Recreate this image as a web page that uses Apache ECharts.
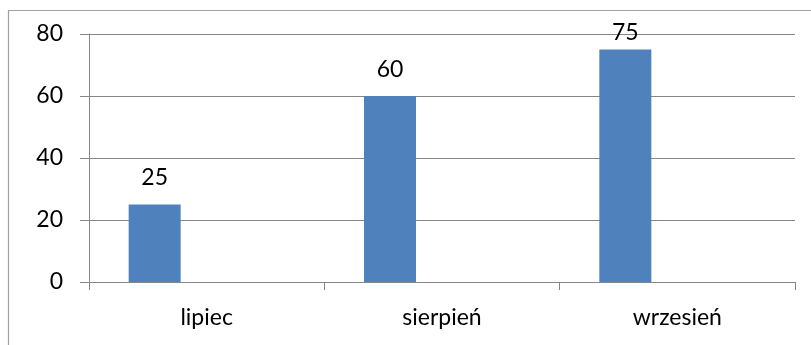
<!DOCTYPE html>
<html>
<head>
<meta charset="utf-8">
<title>Wykres miesięczny</title>
<script src="https://cdn.jsdelivr.net/npm/echarts@6/dist/echarts.min.js"></script>
<style>
  html, body { margin: 0; padding: 0; background: #fff; }
  #chart { width: 811px; height: 345px; }
</style>
</head>
<body>
<div id="chart"></div>
<script>
// Months on the category axis and their values
const categories = ['lipiec', 'sierpień', 'wrzesień'];
const values = [25, 60, 75];
const yTicks = [0, 20, 40, 60, 80];

const FONT = 'Lato, "Open Sans", sans-serif';
const AXIS_GRAY = '#868686';
const GRID_TOP = 34;

const chart = echarts.init(document.getElementById('chart'), null, { renderer: 'canvas' });

chart.setOption({
  backgroundColor: '#ffffff',
  animation: false,
  graphic: [{
    // outer chart-area frame (open on the right and bottom)
    type: 'rect',
    shape: { x: 8.5, y: 10.5, width: 1000, height: 600 },
    style: { fill: 'none', stroke: '#a0a0a0', lineWidth: 1.2 },
    silent: true,
    z: -1
  }],
  grid: { left: 89, right: 16, top: GRID_TOP, bottom: 63, containLabel: false },
  xAxis: {
    type: 'category',
    data: categories,
    boundaryGap: true,
    axisLine: { show: true, lineStyle: { color: AXIS_GRAY, width: 1 } },
    axisTick: { show: true, length: 8, lineStyle: { color: AXIS_GRAY } },
    axisLabel: { color: '#000', fontFamily: FONT, fontSize: 23, margin: 24 },
    splitLine: { show: false }
  },
  yAxis: {
    type: 'value',
    min: yTicks[0],
    max: yTicks[yTicks.length - 1],
    interval: yTicks[1] - yTicks[0],
    axisLine: { show: true, lineStyle: { color: AXIS_GRAY, width: 1 } },
    axisTick: { show: true, length: 9, inside: false, lineStyle: { color: AXIS_GRAY } },
    axisLabel: { color: '#000', fontFamily: FONT, fontSize: 23, margin: 26 },
    splitLine: { show: true, lineStyle: { color: AXIS_GRAY, width: 1 } }
  },
  series: [
    {
      type: 'bar',
      data: values,
      barWidth: 52,
      barGap: '100%',
      itemStyle: { color: '#4F81BD' },
      label: {
        show: true,
        position: 'top',
        distance: 15,
        color: '#000',
        fontFamily: FONT,
        fontSize: 23
      },
      // keep value labels from rising above the chart area
      labelLayout: function (params) {
        const minY = GRID_TOP - 13;
        return { dy: Math.max(0, minY - params.labelRect.y) };
      }
    },
    {
      // empty companion series reserving the right part of each category slot
      type: 'bar',
      data: values.map(() => null),
      barWidth: 52,
      barGap: '100%'
    }
  ]
});
</script>
</body>
</html>
